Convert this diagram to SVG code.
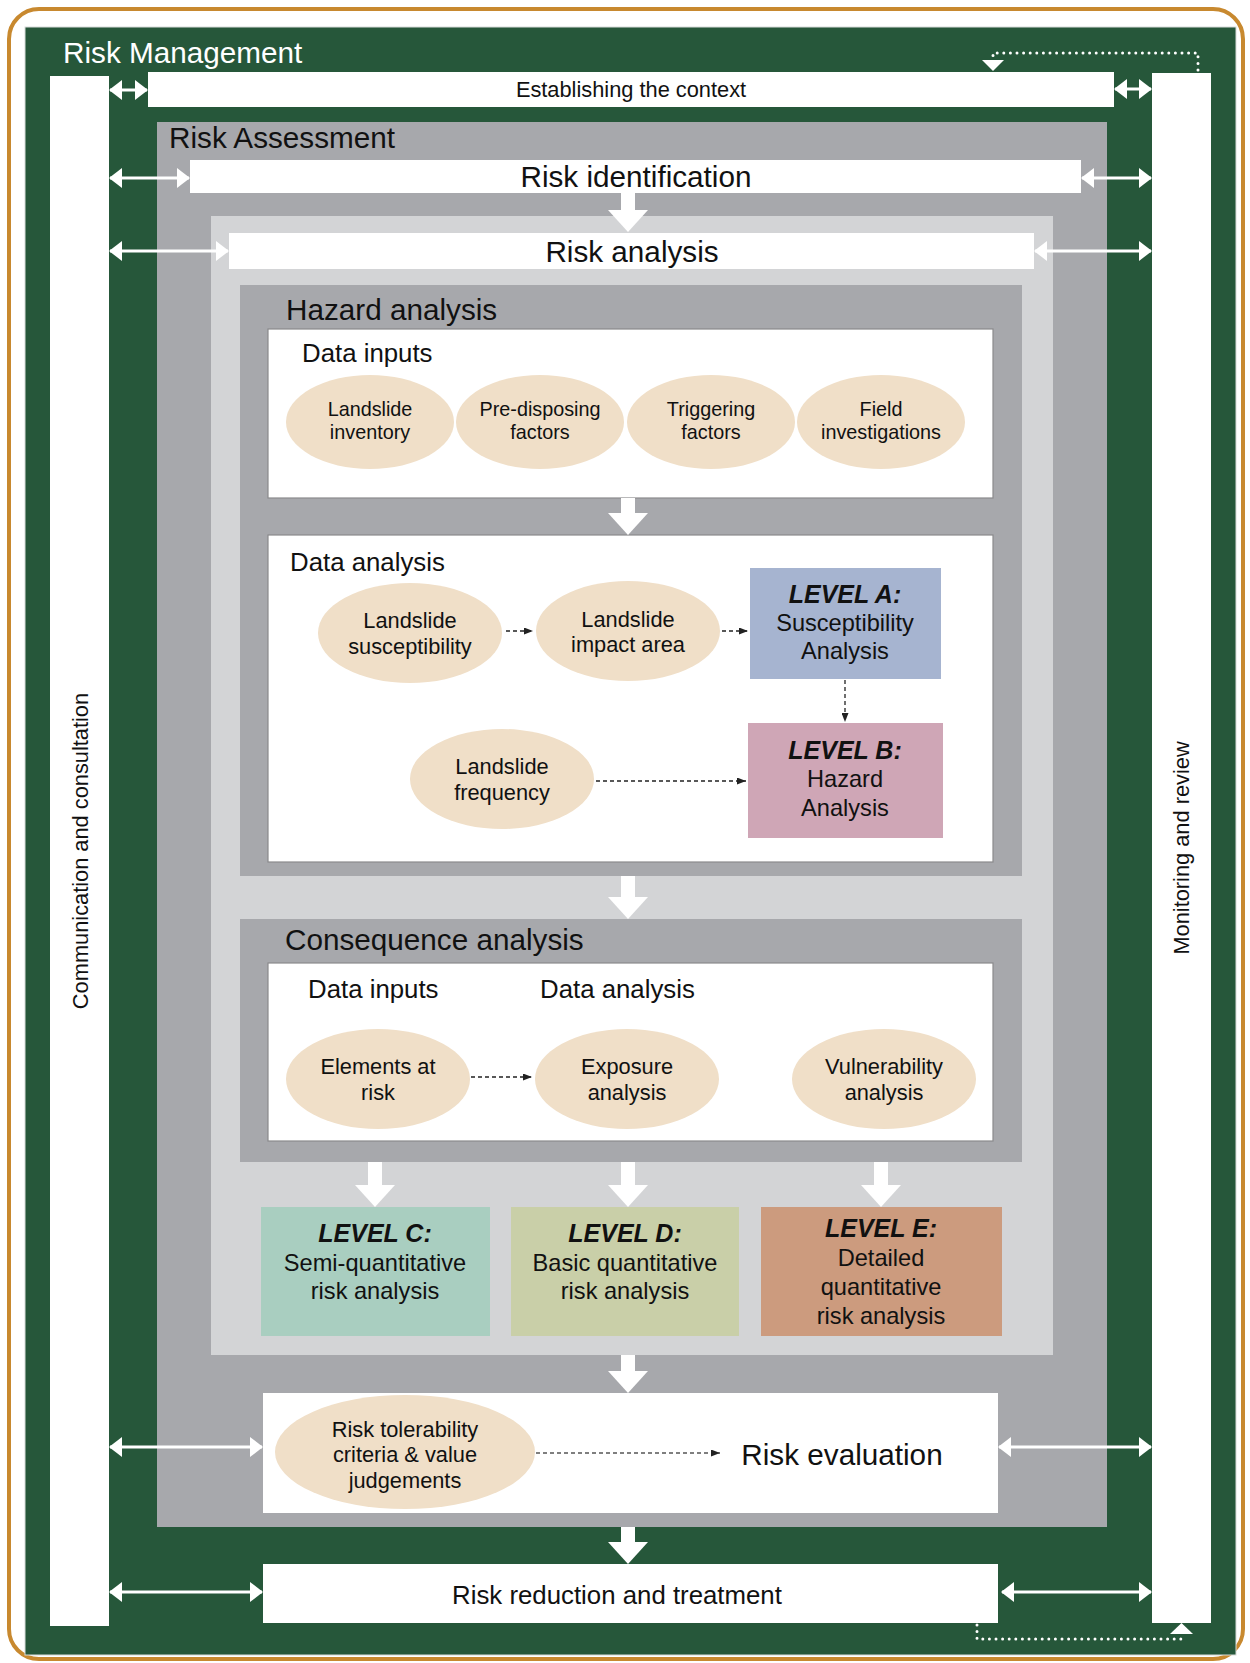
<svg xmlns="http://www.w3.org/2000/svg" width="1250" height="1663" viewBox="0 0 1250 1663">
<defs>
<style>
text{font-family:"Liberation Sans",Arial,sans-serif;fill:#111}
.h28{font-size:29.7px}
.h29{font-size:29.7px}
.s25{font-size:25.8px}
.s21{font-size:21.8px}
.s19{font-size:19.8px}
.s23{font-size:23.6px}
.m{text-anchor:middle}
.b{font-weight:bold;font-style:italic;font-size:25px}
.ell{fill:#F0DFC8}
.inner{fill:#fff;stroke:#8a8a8c;stroke-width:1.2}
.dg{fill:#A7A8AC}
.lg{fill:#D3D4D6}
.dbl{stroke:#fff;stroke-width:3;fill:none;marker-start:url(#wh);marker-end:url(#wh)}
.dash{stroke:#222;stroke-width:1.3;fill:none;stroke-dasharray:4 3;marker-end:url(#bk)}
.dot{stroke:#fff;stroke-width:3;fill:none;stroke-linecap:round;stroke-dasharray:0 6.6}
.blk{fill:#fff}
</style>
<marker id="wh" markerUnits="userSpaceOnUse" viewBox="0 0 13 20" refX="12" refY="10" markerWidth="13" markerHeight="20" orient="auto-start-reverse">
<path d="M0,0 L13,10 L0,20 z" fill="#fff"/>
</marker>
<marker id="bk" markerUnits="userSpaceOnUse" viewBox="0 0 9 7" refX="9" refY="3.5" markerWidth="9" markerHeight="7" orient="auto">
<path d="M0,0 L9,3.5 L0,7 z" fill="#222"/>
</marker>
<path id="bhead" d="M-20,-22 H20 L0,0 z"/>
</defs>
<rect width="1250" height="1663" fill="#fff"/>
<rect x="9" y="9" width="1234" height="1650" rx="30" fill="none" stroke="#C8892F" stroke-width="4"/>

<g id="risk-management">
<rect x="25" y="27" width="1211" height="1628" fill="#26573A" stroke="#d8dcd9" stroke-width="1"/>
<text x="63" y="63" class="h28" style="fill:#fff">Risk Management</text>
</g>

<g id="communication">
<rect x="50" y="76" width="59" height="1550" fill="#fff"/>
<text transform="translate(88,851) rotate(-90)" class="s21 m">Communication and consultation</text>
</g>

<g id="monitoring">
<rect x="1152" y="73" width="59" height="1550" fill="#fff"/>
<text transform="translate(1189,848) rotate(-90)" class="s21 m">Monitoring and review</text>
</g>

<g id="establishing-context">
<rect x="148" y="72" width="966" height="35" fill="#fff"/>
<text x="631" y="97" class="s21 m">Establishing the context</text>
</g>

<g id="risk-assessment">
<rect x="157" y="122" width="950" height="1405" class="dg"/>
<text x="169" y="148" class="h28">Risk Assessment</text>
</g>

<g id="risk-identification">
<rect x="190" y="160" width="891" height="33" fill="#fff"/>
<text x="636" y="187" class="h29 m">Risk identification</text>
</g>

<g id="risk-analysis-area">
<rect x="211" y="216" width="842" height="1139" class="lg"/>
</g>

<g id="risk-analysis">
<rect x="229" y="233" width="805" height="36" fill="#fff"/>
<text x="632" y="262" class="h29 m">Risk analysis</text>
</g>

<g id="hazard-analysis">
<rect x="240" y="285" width="782" height="591" class="dg"/>
<text x="286" y="320" class="h29">Hazard analysis</text>
</g>

<g id="hazard-data-inputs">
<rect x="268" y="329" width="725" height="169" class="inner"/>
<text x="302" y="362" class="s25">Data inputs</text>
</g>

<g id="landslide-inventory">
<ellipse cx="370" cy="422" rx="84" ry="47" class="ell"/>
<text x="370" y="416" class="s19 m">Landslide</text>
<text x="370" y="439" class="s19 m">inventory</text>
</g>
<g id="predisposing-factors">
<ellipse cx="540" cy="422" rx="84" ry="47" class="ell"/>
<text x="540" y="416" class="s19 m">Pre-disposing</text>
<text x="540" y="439" class="s19 m">factors</text>
</g>
<g id="triggering-factors">
<ellipse cx="711" cy="422" rx="84" ry="47" class="ell"/>
<text x="711" y="416" class="s19 m">Triggering</text>
<text x="711" y="439" class="s19 m">factors</text>
</g>
<g id="field-investigations">
<ellipse cx="881" cy="422" rx="84" ry="47" class="ell"/>
<text x="881" y="416" class="s19 m">Field</text>
<text x="881" y="439" class="s19 m">investigations</text>
</g>

<g id="hazard-data-analysis">
<rect x="268" y="535" width="725" height="327" class="inner"/>
<text x="290" y="571" class="s25">Data analysis</text>
</g>

<g id="landslide-susceptibility">
<ellipse cx="410" cy="633" rx="92" ry="50" class="ell"/>
<text x="410" y="628" class="s21 m">Landslide</text>
<text x="410" y="654" class="s21 m">susceptibility</text>
</g>
<g id="landslide-impact-area">
<ellipse cx="628" cy="631" rx="92" ry="50" class="ell"/>
<text x="628" y="627" class="s21 m">Landslide</text>
<text x="628" y="652" class="s21 m">impact area</text>
</g>
<g id="landslide-frequency">
<ellipse cx="502" cy="779" rx="92" ry="50" class="ell"/>
<text x="502" y="774" class="s21 m">Landslide</text>
<text x="502" y="800" class="s21 m">frequency</text>
</g>

<g id="level-a">
<rect x="750" y="568" width="191" height="111" fill="#A6B4D0"/>
<text x="845" y="603" class="m b">LEVEL A:</text>
<text x="845" y="631" class="s23 m">Susceptibility</text>
<text x="845" y="659" class="s23 m">Analysis</text>
</g>
<g id="level-b">
<rect x="748" y="723" width="195" height="115" fill="#CFA6B6"/>
<text x="845" y="759" class="m b">LEVEL B:</text>
<text x="845" y="787" class="s23 m">Hazard</text>
<text x="845" y="816" class="s23 m">Analysis</text>
</g>

<g id="consequence-analysis">
<rect x="240" y="919" width="782" height="243" class="dg"/>
<text x="285" y="950" class="h29">Consequence analysis</text>
<rect x="268" y="963" width="725" height="178" class="inner"/>
<text x="308" y="998" class="s25">Data inputs</text>
<text x="540" y="998" class="s25">Data analysis</text>
</g>

<g id="elements-at-risk">
<ellipse cx="378" cy="1079" rx="92" ry="50" class="ell"/>
<text x="378" y="1074" class="s21 m">Elements at</text>
<text x="378" y="1100" class="s21 m">risk</text>
</g>
<g id="exposure-analysis">
<ellipse cx="627" cy="1079" rx="92" ry="50" class="ell"/>
<text x="627" y="1074" class="s21 m">Exposure</text>
<text x="627" y="1100" class="s21 m">analysis</text>
</g>
<g id="vulnerability-analysis">
<ellipse cx="884" cy="1079" rx="92" ry="50" class="ell"/>
<text x="884" y="1074" class="s21 m">Vulnerability</text>
<text x="884" y="1100" class="s21 m">analysis</text>
</g>

<g id="level-c">
<rect x="261" y="1207" width="229" height="129" fill="#A9CEC0"/>
<text x="375" y="1242" class="m b">LEVEL C:</text>
<text x="375" y="1271" class="s23 m">Semi-quantitative</text>
<text x="375" y="1299" class="s23 m">risk analysis</text>
</g>
<g id="level-d">
<rect x="511" y="1207" width="228" height="129" fill="#C9CFA8"/>
<text x="625" y="1242" class="m b">LEVEL D:</text>
<text x="625" y="1271" class="s23 m">Basic quantitative</text>
<text x="625" y="1299" class="s23 m">risk analysis</text>
</g>
<g id="level-e">
<rect x="761" y="1207" width="241" height="129" fill="#CC9B7E"/>
<text x="881" y="1237" class="m b">LEVEL E:</text>
<text x="881" y="1266" class="s23 m">Detailed</text>
<text x="881" y="1295" class="s23 m">quantitative</text>
<text x="881" y="1324" class="s23 m">risk analysis</text>
</g>

<g id="risk-evaluation">
<rect x="263" y="1393" width="735" height="120" fill="#fff"/>
<text x="842" y="1465" class="h29 m">Risk evaluation</text>
</g>
<g id="risk-tolerability">
<ellipse cx="405" cy="1452" rx="130" ry="57" class="ell"/>
<text x="405" y="1437" class="s21 m">Risk tolerability</text>
<text x="405" y="1462" class="s21 m">criteria &amp; value</text>
<text x="405" y="1488" class="s21 m">judgements</text>
</g>

<g id="risk-reduction">
<rect x="263" y="1564" width="735" height="59" fill="#fff"/>
<text x="617" y="1604" class="m" style="font-size:25.8px">Risk reduction and treatment</text>
</g>

<g id="connectors">
<use href="#bhead" x="628" y="232" class="blk"/>
<rect x="621" y="193" width="14" height="18" fill="#fff"/>
<use href="#bhead" x="628" y="535" class="blk"/>
<rect x="621" y="498" width="14" height="16" fill="#fff"/>
<use href="#bhead" x="628" y="919" class="blk"/>
<rect x="621" y="876" width="14" height="22" fill="#fff"/>
<use href="#bhead" x="375" y="1207" class="blk"/>
<rect x="368" y="1162" width="14" height="24" fill="#fff"/>
<use href="#bhead" x="628" y="1207" class="blk"/>
<rect x="621" y="1162" width="14" height="24" fill="#fff"/>
<use href="#bhead" x="881" y="1207" class="blk"/>
<rect x="874" y="1162" width="14" height="24" fill="#fff"/>
<use href="#bhead" x="628" y="1393" class="blk"/>
<rect x="621" y="1355" width="14" height="18" fill="#fff"/>
<use href="#bhead" x="628" y="1564" class="blk"/>
<rect x="621" y="1527" width="14" height="18" fill="#fff"/>

<path class="dbl" d="M110,90 H147"/>
<path class="dbl" d="M1115,89 H1151"/>
<path class="dbl" d="M110,178 H189"/>
<path class="dbl" d="M1082,178 H1151"/>
<path class="dbl" d="M110,251 H228"/>
<path class="dbl" d="M1035,251 H1151"/>
<path class="dbl" d="M110,1447 H262"/>
<path class="dbl" d="M999,1447 H1151"/>
<path class="dbl" d="M110,1592 H262"/>
<path class="dbl" d="M1002,1592 H1151"/>

<path class="dot" d="M1198,70 V53 H993 V58"/>
<path d="M982,60 H1004 L993,71 z" fill="#fff"/>
<path class="dot" d="M977,1625 V1639 H1182 V1635"/>
<path d="M1170,1634 H1193 L1181.5,1623 z" fill="#fff"/>

<path class="dash" d="M506,631 H533"/>
<path class="dash" d="M722,631 H748"/>
<path class="dash" d="M845,680 V722"/>
<path class="dash" d="M596,781 H746"/>
<path class="dash" d="M471,1077 H532"/>
<path class="dash" d="M536,1453 H720" style="stroke:#555"/>
</g>
</svg>
